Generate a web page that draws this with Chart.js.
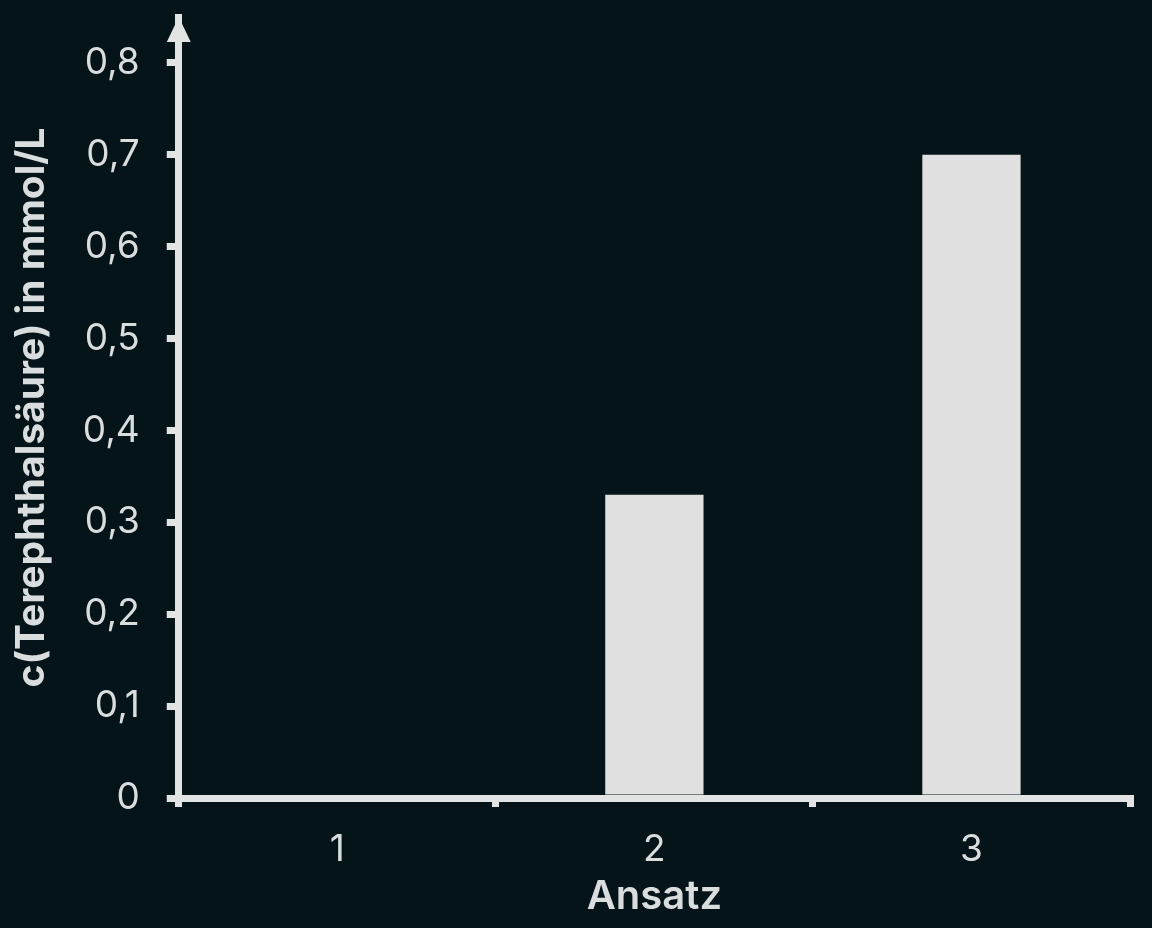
<!DOCTYPE html>
<html>
<head>
<meta charset="utf-8">
<script src="https://cdn.jsdelivr.net/npm/chart.js@4"></script>
<style>
  html, body { margin: 0; padding: 0; background: #051419; }
  #wrap { width: 1152px; height: 928px; }
</style>
</head>
<body>
<div id="wrap"><canvas id="myChart"></canvas></div>
<script>
'use strict';

let categories = ['1', '2', '3'];
let concentrations = [0, 0.33, 0.70];
let yTicks = [0, 0.1, 0.2, 0.3, 0.4, 0.5, 0.6, 0.7, 0.8];

let ink = '#e2e4e4';
let textColor = '#dadddd';

// draws the arrow head on top of the y axis
let arrowPlugin = {
  id: 'arrowHead',
  afterDraw(chart) {
    let ctx = chart.ctx;
    let area = chart.chartArea;
    let x = area.left;
    ctx.save();
    ctx.fillStyle = ink;
    ctx.beginPath();
    ctx.moveTo(x, area.top);
    ctx.lineTo(x - 12, area.top + 25);
    ctx.lineTo(x + 12, area.top + 25);
    ctx.closePath();
    ctx.fill();
    ctx.restore();
  }
};

let ctx = document.getElementById('myChart').getContext('2d');
let myChart = new Chart(ctx, {
  type: 'bar',
  data: {
    labels: categories,
    datasets: [{
      data: concentrations,
      backgroundColor: '#e0e0e0',
      borderWidth: 0,
      categoryPercentage: 1,
      barPercentage: 0.31,
    }],
  },
  options: {
    responsive: true,
    maintainAspectRatio: false,
    animation: false,
    layout: {
      padding: { top: 17, right: 22, bottom: 6, left: 9 }
    },
    plugins: {
      legend: { display: false },
      tooltip: { enabled: false }
    },
    scales: {
      x: {
        afterFit(axis) {
          axis.height = 124;
        },
        grid: {
          offset: true,
          drawOnChartArea: false,
          drawTicks: true,
          tickLength: 9,
          lineWidth: 7,
          color: ink
        },
        border: { display: true, color: ink, width: 7 },
        ticks: {
          color: textColor,
          font: { family: 'Inter', size: 37 },
          padding: 21
        },
        title: {
          display: true,
          text: 'Ansatz',
          color: textColor,
          font: { family: 'Inter', size: 40, weight: '600' },
          padding: { top: 0, bottom: 1 }
        }
      },
      y: {
        min: 0,
        max: 0.85,
        afterBuildTicks(axis) {
          axis.ticks = yTicks.map(v => ({ value: v }));
        },
        afterFit(axis) {
          axis.paddingTop = 0;
          axis.paddingBottom = 0;
        },
        grid: {
          drawOnChartArea: false,
          drawTicks: true,
          tickLength: 12,
          lineWidth: 7,
          color: ink
        },
        border: { display: true, color: ink, width: 7 },
        ticks: {
          color: textColor,
          font: { family: 'Inter', size: 37 },
          padding: 27,
          callback: v => v === 0 ? '0' : v.toFixed(1).replace('.', ',')
        },
        title: {
          display: true,
          text: 'c(Terephthalsäure) in mmol/L',
          color: textColor,
          font: { family: 'Inter', size: 39, weight: 'bold' },
          padding: { top: 0, bottom: 0 }
        }
      }
    }
  },
  plugins: [arrowPlugin]
});
</script>
</body>
</html>
